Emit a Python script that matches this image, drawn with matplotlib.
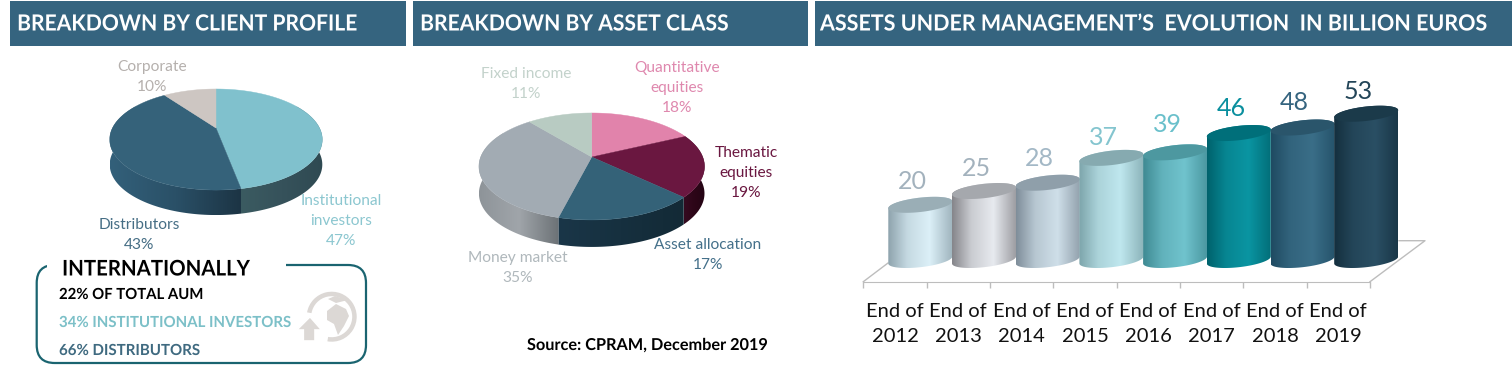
import numpy as np
import matplotlib
matplotlib.use("Agg")
import matplotlib.pyplot as plt
from matplotlib.colors import to_rgb
from matplotlib.patches import FancyBboxPatch, Polygon, Rectangle, Wedge
from matplotlib.patheffects import AbstractPathEffect
from matplotlib.transforms import Affine2D

W, H = 1512, 367

client_names = ["Institutional", "Distributors", "Corporate"]
client_share = [47, 43, 10]
client_top = ["#80c1cd", "#35627a", "#cdc6c2"]
client_wall = [("#3b5b61", "#36525b", "#2f4a52"), ("#33607a", "#2a5067", "#1c3444"), ("#cdc6c2",) * 3]

asset_names = ["Quantitative equities", "Thematic equities", "Asset allocation", "Money market", "Fixed income"]
asset_share = [18, 19, 17, 35, 11]
asset_top = ["#e183ab", "#6a1740", "#346278", "#a2abb3", "#b8cbc2"]
asset_wall = [("#e183ab",) * 3, ("#350a20", "#2d0618", "#240414"), ("#1a3648", "#16303f", "#132a36"),
              ("#8e9499", "#a0a5aa", "#6c7276"), ("#b8cbc2",) * 3]

years = ["2012", "2013", "2014", "2015", "2016", "2017", "2018", "2019"]
aum = [20, 25, 28, 37, 39, 46, 48, 53]
bar_edge = ["#8ea3ad", "#85858a", "#7f8e9a", "#7da5ab", "#3f8a93", "#00626c", "#1f4b62", "#142f3e"]
bar_light = ["#dcf0f8", "#e7eaef", "#cfdfe9", "#bfe7ee", "#70c3cd", "#0a95a2", "#3a6e88", "#2a4f64"]
bar_top = ["#9aaeb6", "#a5a8ad", "#8f9faa", "#86aab0", "#4d98a0", "#006f7a", "#2a556b", "#1b3a4a"]
label_colors = ["#a3b2bd", "#a3b2bd", "#a3b8c6", "#84c5cf", "#6ac0cb", "#0a8f9e", "#35647f", "#234558"]
label_nudge = [23, 23, 24, 20, 28, 25, 25, 22]

HEADER = "#35647f"
BODY = "Lato"

fig = plt.figure(figsize=(W / 100, H / 100), dpi=100)
bg = fig.add_axes([0, 0, 1, 1])
bg.set_xlim(0, W)
bg.set_ylim(H, 0)
bg.axis("off")
renderer = fig.canvas.get_renderer()


class Squeeze(AbstractPathEffect):
    # the original text is Calibri-like, narrower than Lato
    def __init__(self, sx, anchor="left"):
        super().__init__()
        self.sx = sx
        self.anchor = anchor

    def draw_path(self, renderer, gc, tpath, affine, rgbFace=None):
        box = tpath.transformed(affine).get_extents()
        x0 = box.x0 if self.anchor == "left" else (box.x0 + box.x1) / 2
        squeezed = affine + Affine2D().translate(-x0, 0).scale(self.sx, 1).translate(x0, 0)
        renderer.draw_path(gc, tpath, squeezed, rgbFace)


def fit_width(txt, width, anchor="left"):
    txt.set_path_effects([Squeeze(width / txt.get_window_extent(renderer).width, anchor)])


def gradient(stops):
    cols = np.array([to_rgb(c) for c in stops])
    s = np.linspace(0, 1, 128)
    return np.stack([np.interp(s, np.linspace(0, 1, len(stops)), cols[:, j]) for j in range(3)], axis=1)[None, :, :]


def pie3d(ax, shares, tops, walls, cx, cy, rx, ry, k, depth):
    # clockwise from 12 o'clock, with a bit of perspective
    def proj(t):
        X, Y = np.sin(t), np.cos(t)
        return cx + rx * X / (1 + k * Y), cy - ry * Y / (1 + k * Y)

    edges = np.radians(np.cumsum([0] + list(shares)) * 3.6)
    # side wall first, the top faces cover what is behind
    for a, b, stops in zip(edges[:-1], edges[1:], walls):
        lo, hi = max(a, np.radians(60)), min(b, np.radians(300))
        if lo >= hi:
            continue
        t = np.linspace(lo, hi, 100)
        x, y = proj(t)
        wall = Polygon(np.c_[np.r_[x, x[::-1]], np.r_[y, y[::-1] + depth]], fc="none", ec="none", zorder=2)
        ax.add_patch(wall)
        im = ax.imshow(gradient(stops), extent=(x.min(), x.max(), y.max() + depth, y.min()),
                       aspect="auto", interpolation="bilinear", zorder=2)
        im.set_clip_path(wall)
    for a, b, col in zip(edges[:-1], edges[1:], tops):
        t = np.linspace(a, b, 120)
        x, y = proj(t)
        ax.fill(np.r_[cx, x], np.r_[cy, y], color=col, lw=0.3, zorder=3)


pie3d(bg, client_share, client_top, client_wall, 216, 128, 103.5, 47.9, 0.228, 25)
pie3d(bg, asset_share, asset_top, asset_wall, 591.7, 157, 111, 51.8, 0.177, 27)
bg.set_xlim(0, W)
bg.set_ylim(H, 0)

# header bands
for x0, x1, title, tx, tw in [
    (10, 406, "BREAKDOWN BY CLIENT PROFILE", 17, 340),
    (413, 808, "BREAKDOWN BY ASSET CLASS", 420, 309),
    (815, 1512, "ASSETS UNDER MANAGEMENT’S  EVOLUTION  IN BILLION EUROS", 820, 668),
]:
    bg.add_patch(Rectangle((x0, 1), x1 - x0, 44.7, color=HEADER, lw=0))
    t = bg.text(tx, 24, title, color="white", fontweight="bold", family=BODY, fontsize=16, va="center")
    fit_width(t, tw)

# pie labels
pie_labels = [
    (152, 77, "Corporate\n10%", "#b5b0ad"),
    (341, 221, "Institutional\ninvestors\n47%", "#8cc7d0"),
    (139, 235, "Distributors\n43%", "#466e85"),
    (526, 84, "Fixed income\n11%", "#c3d2cb"),
    (677, 88, "Quantitative\nequities\n18%", "#df88ae"),
    (746, 173, "Thematic\nequities\n19%", "#6a1740"),
    (708, 255, "Asset allocation\n17%", "#44708a"),
    (518, 268, "Money market\n35%", "#b0b8bc"),
]
for x, y, s, col in pie_labels:
    bg.text(x, y, s, color=col, family=BODY, fontsize=11.2, ha="center", va="center", linespacing=1.55)

# internationally box
bg.add_patch(FancyBboxPatch((36.7 + 18, 265 + 18), 329.3 - 36, 98 - 36,
                            boxstyle="round,pad=18,rounding_size=18",
                            fc="none", ec="#1a6470", lw=1.6))
bg.add_patch(Rectangle((47, 258), 239, 14, color="white", lw=0, zorder=2.5))
t = bg.text(62, 269, "INTERNATIONALLY", color="black", fontweight="bold", family=BODY, fontsize=15.5,
            va="center", zorder=3)
fit_width(t, 188)
for y, s, col, tw in [(295, "22% OF TOTAL AUM", "black", 145),
                      (323, "34% INSTITUTIONAL INVESTORS", "#7cc0c8", 232),
                      (351, "66% DISTRIBUTORS", "#3f6a80", 141)]:
    t = bg.text(59, y, s, color=col, fontweight="bold", family=BODY, fontsize=11, va="center", zorder=3)
    fit_width(t, tw)

# globe icon, grey
ICON = "#dcd8d5"
bg.add_patch(Wedge((331.7, 316.7), 25, -170, 100, width=4.5, color=ICON, lw=0))
bg.add_patch(Polygon([(327, 311), (336, 304), (346, 309), (349, 316), (344, 326), (338, 335),
                      (334, 324), (327, 320)], color=ICON, lw=0))
bg.add_patch(Polygon([(335, 296), (348, 300), (336, 303), (328, 299)], color=ICON, lw=0))
bg.add_patch(Polygon([(310, 316.7), (321.7, 330), (315, 330), (315, 341), (303.3, 341), (303.3, 330), (296.7, 330)],
                     fc=ICON, ec="white", lw=1.2, zorder=2.4))

t = bg.text(527, 346, "Source: CPRAM, December 2019", color="black", fontweight="bold", family=BODY,
            fontsize=11.8, va="center")
fit_width(t, 241)

# floor of the column chart
FLOOR = "#bdbdbd"
bg.plot([863.3, 888], [281.7, 263], color=FLOOR, lw=1)
bg.plot([1370, 1425, 1399], [281.7, 240.7, 240.7], color=FLOOR, lw=1)

# column chart, y in billions: zero at 260 px, 2.76 px per billion; one bar = 63.7 px
PX_X, PX_Y = 63.7, 2.76
X0 = 920.3
left_px, right_px, top_px, bottom_px = 855, 1440, 60, 281.7
ax = fig.add_axes([left_px / W, 1 - bottom_px / H, (right_px - left_px) / W, (bottom_px - top_px) / H])
ax.patch.set_alpha(0)
xlim = ((left_px - X0) / PX_X, (right_px - X0) / PX_X)
ylim = ((260 - bottom_px) / PX_Y, (260 - top_px) / PX_Y)

idx = np.arange(len(years))
t_low = np.linspace(np.pi, 2 * np.pi, 60)
t_up = np.linspace(0, np.pi, 60)
hw = 32 / PX_X
rise, minor = 3.5 / PX_Y, 7.2 / PX_Y


def rim(i, v, t):
    return i + hw * np.cos(t), v + rise * np.cos(t) + minor * np.sin(t)


for i, v in zip(idx, aum):
    xb, yb = rim(i, 0, t_low)
    xt, yt = rim(i, v, t_up)
    body = Polygon(np.c_[np.r_[xb, xt], np.r_[yb, yt]], fc="none", ec="none", zorder=3 + i)
    ax.add_patch(body)
    c0, c1 = np.array(to_rgb(bar_edge[i])), np.array(to_rgb(bar_light[i]))
    s = np.linspace(0, 1, 128)
    mix = np.interp(s, [0, 0.3, 0.65, 1], [0, 0.7, 1, 0.25])[:, None]
    grad = (c0 + (c1 - c0) * mix)[None, :, :]
    im = ax.imshow(grad, extent=(i - hw, i + hw, -5, v + 5), aspect="auto", interpolation="bilinear",
                   zorder=3 + i)
    im.set_clip_path(body)
    xe, ye = rim(i, v, np.linspace(0, 2 * np.pi, 120))
    ax.fill(xe, ye, color=bar_top[i], lw=0, zorder=3 + i)
    ax.annotate(str(v), (i, v), xytext=(-8 / 1.389, label_nudge[i] / 1.389), textcoords="offset points",
                color=label_colors[i], family=BODY, fontsize=18, ha="center", va="center", zorder=20)

ax.set_xlim(xlim)
ax.set_ylim(ylim)
ax.set_yticks([])
for name in ["top", "left", "right"]:
    ax.spines[name].set_visible(False)
edge0 = (863.3 - X0) / PX_X
step = 63.34 / PX_X
ax.spines["bottom"].set_bounds(edge0, edge0 + 8 * step)
ax.spines["bottom"].set_color(FLOOR)
ax.set_xticks(edge0 + step * np.arange(9))
ax.set_xticklabels([])
ax.tick_params(axis="x", which="major", length=4.5, color=FLOOR, width=1)
ax.set_xticks(edge0 + step * (idx + 0.5), minor=True)
ax.set_xticklabels(["End of\n" + y for y in years], minor=True, family=BODY, fontsize=14.5,
                   color="#111111", linespacing=1.55)
ax.tick_params(axis="x", which="minor", length=0, pad=15.5)

fig.savefig("out.png", dpi=100)
